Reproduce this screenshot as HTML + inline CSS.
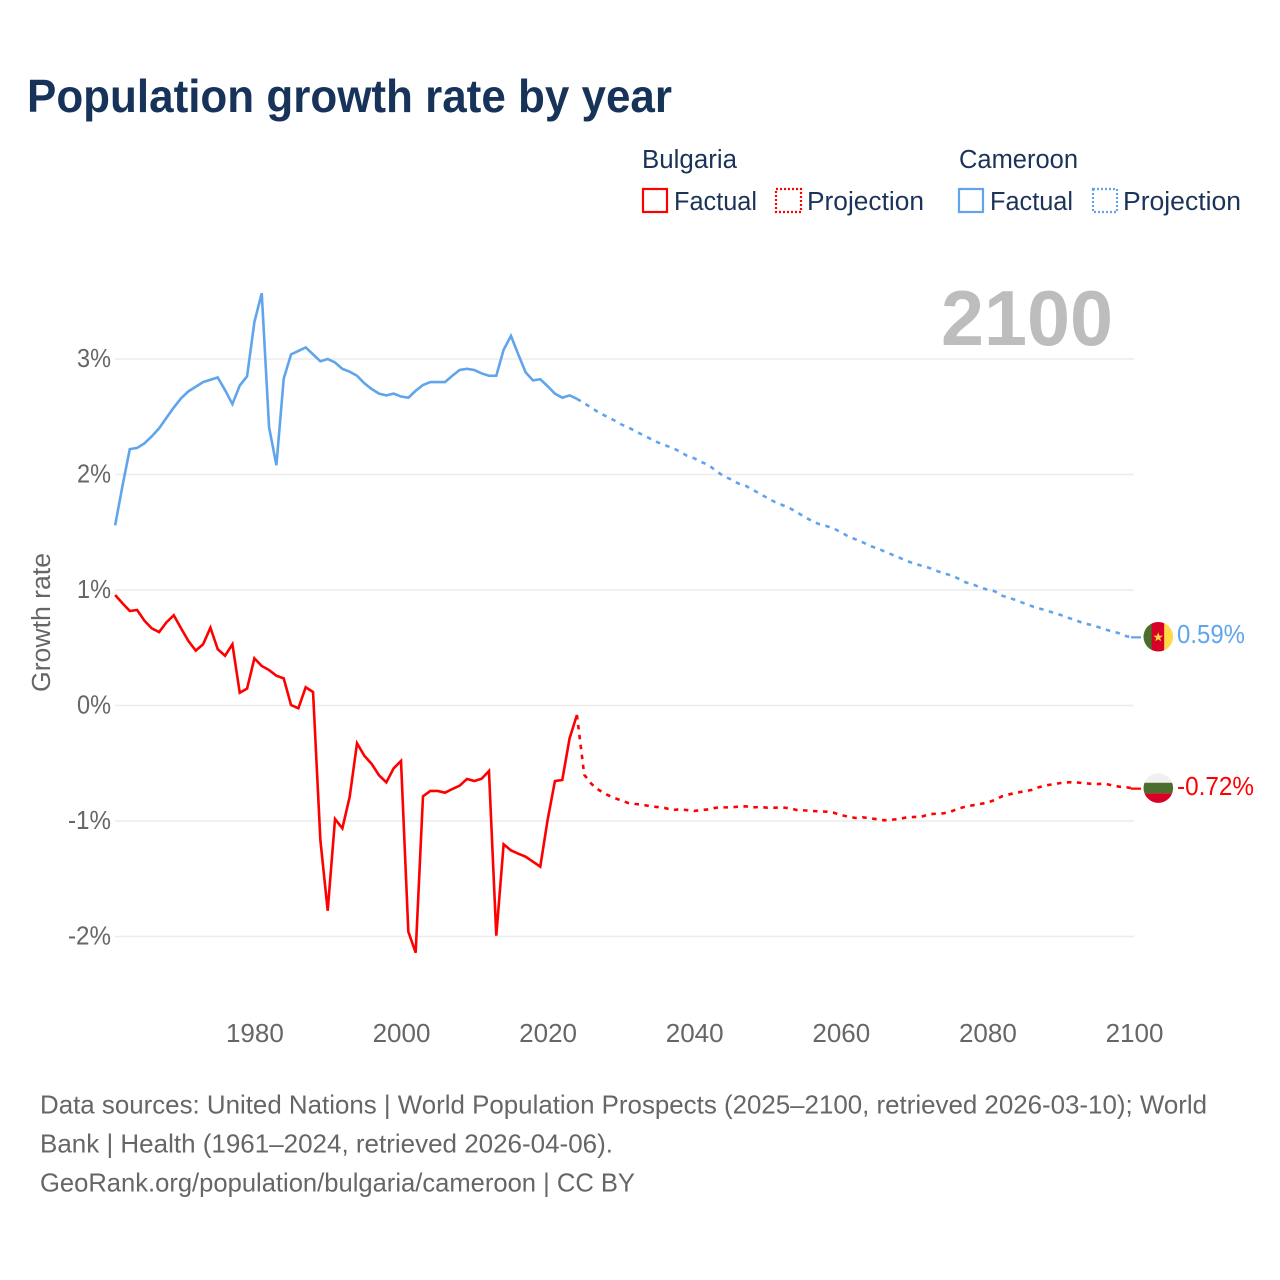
<!DOCTYPE html>
<html lang="en">
<head>
<meta charset="utf-8">
<title>Population growth rate by year</title>
<style>
html,body{margin:0;padding:0;background:#fff;}
svg{display:block;font-family:"Liberation Sans",Arial,sans-serif;}
</style>
</head>
<body>
<svg id="chart" width="1280" height="1280" viewBox="0 0 1280 1280" xmlns="http://www.w3.org/2000/svg">
  <rect x="0" y="0" width="1280" height="1280" fill="#ffffff"/>
  <text x="27" y="112" font-size="46.5" font-weight="700" fill="#17335a" textLength="645" lengthAdjust="spacingAndGlyphs">Population growth rate by year</text>

  <g font-size="25.5" fill="#1b3358">
    <text x="642" y="168" textLength="95" lengthAdjust="spacingAndGlyphs">Bulgaria</text>
    <rect x="643" y="189" width="24" height="23" fill="none" stroke="#ff0000" stroke-width="2.2"/>
    <text x="674" y="210" textLength="83" lengthAdjust="spacingAndGlyphs">Factual</text>
    <rect x="776" y="189" width="25" height="23" fill="none" stroke="#ff0000" stroke-width="2.2" stroke-dasharray="2 2"/>
    <text x="807" y="210" textLength="117" lengthAdjust="spacingAndGlyphs">Projection</text>
    <text x="959" y="168" textLength="119" lengthAdjust="spacingAndGlyphs">Cameroon</text>
    <rect x="959" y="189" width="24" height="23" fill="none" stroke="#60a5ec" stroke-width="2.2"/>
    <text x="990" y="210" textLength="83" lengthAdjust="spacingAndGlyphs">Factual</text>
    <rect x="1093" y="189" width="24" height="23" fill="none" stroke="#60a5ec" stroke-width="2.2" stroke-dasharray="2 2"/>
    <text x="1123" y="210" textLength="118" lengthAdjust="spacingAndGlyphs">Projection</text>
  </g>

  <g id="grid"></g>
  <g id="y-ticks"></g>
  <g id="x-ticks"></g>
  <text transform="translate(50 692) rotate(-90)" font-size="25.5" fill="#666666" textLength="139" lengthAdjust="spacingAndGlyphs">Growth rate</text>

  <text id="year-label" x="941" y="345" font-size="78" font-weight="700" fill="#bdbdbd" textLength="172" lengthAdjust="spacingAndGlyphs">2100</text>

  <g id="series"></g>

  <defs>
    <clipPath id="clip-cameroon"><circle id="clip-cm" cx="1158.3" cy="0" r="14.8"/></clipPath>
    <clipPath id="clip-bulgaria"><circle id="clip-bg" cx="1158.3" cy="0" r="14.8"/></clipPath>
  </defs>
  <g id="flag-cameroon" clip-path="url(#clip-cameroon)"></g>
  <g id="flag-bulgaria" clip-path="url(#clip-bulgaria)"></g>
  <g id="end-labels"></g>

  <g font-size="26" fill="#666666">
    <text x="40" y="1113.5" textLength="1167" lengthAdjust="spacingAndGlyphs">Data sources: United Nations | World Population Prospects (2025–2100, retrieved 2026-03-10); World</text>
    <text x="40" y="1152.5" textLength="573" lengthAdjust="spacingAndGlyphs">Bank | Health (1961–2024, retrieved 2026-04-06).</text>
    <text x="40" y="1191.5" textLength="595" lengthAdjust="spacingAndGlyphs">GeoRank.org/population/bulgaria/cameroon | CC BY</text>
  </g>
</svg>

<script>
const factualStartYear = 1961;
const projectionStartYear = 2025;

const cameroonFactual = [1.56,1.90,2.22,2.23,2.27,2.33,2.40,2.49,2.58,2.66,2.72,2.76,2.80,2.82,2.84,2.73,2.61,2.77,2.85,3.32,3.57,2.41,2.08,2.83,3.04,3.07,3.10,3.04,2.98,3.00,2.97,2.915,2.89,2.855,2.79,2.74,2.70,2.685,2.70,2.675,2.665,2.725,2.775,2.80,2.80,2.80,2.855,2.905,2.915,2.905,2.875,2.855,2.855,3.08,3.20,3.04,2.885,2.815,2.825,2.765,2.70,2.665,2.685,2.655];

const cameroonProjection = [2.617,2.578,2.535,2.504,2.472,2.435,2.408,2.374,2.342,2.31,2.279,2.253,2.232,2.20,2.163,2.14,2.108,2.08,2.03,1.987,1.958,1.923,1.903,1.868,1.831,1.797,1.762,1.736,1.71,1.673,1.635,1.60,1.571,1.554,1.534,1.50,1.465,1.439,1.413,1.381,1.361,1.332,1.306,1.28,1.251,1.231,1.21,1.193,1.167,1.145,1.127,1.10,1.067,1.049,1.023,1.003,0.989,0.951,0.931,0.911,0.885,0.861,0.841,0.824,0.803,0.784,0.76,0.74,0.714,0.70,0.682,0.66,0.642,0.625,0.599,0.59];

const bulgariaFactual = [0.957,0.885,0.818,0.827,0.734,0.668,0.636,0.72,0.781,0.668,0.558,0.475,0.53,0.674,0.487,0.431,0.53,0.111,0.146,0.409,0.342,0.307,0.258,0.235,0.004,-0.024,0.158,0.117,-1.165,-1.777,-0.983,-1.063,-0.79,-0.327,-0.435,-0.506,-0.604,-0.665,-0.544,-0.48,-1.958,-2.14,-0.786,-0.74,-0.74,-0.755,-0.723,-0.694,-0.636,-0.654,-0.634,-0.567,-1.993,-1.202,-1.254,-1.283,-1.309,-1.352,-1.395,-0.991,-0.654,-0.645,-0.284,-0.082];

const bulgariaProjection = [-0.60,-0.68,-0.732,-0.769,-0.798,-0.821,-0.844,-0.853,-0.859,-0.873,-0.879,-0.887,-0.905,-0.899,-0.905,-0.913,-0.905,-0.899,-0.885,-0.882,-0.882,-0.876,-0.873,-0.882,-0.879,-0.885,-0.885,-0.882,-0.89,-0.905,-0.908,-0.913,-0.916,-0.919,-0.928,-0.948,-0.962,-0.974,-0.968,-0.977,-0.985,-0.994,-0.988,-0.983,-0.968,-0.965,-0.963,-0.942,-0.937,-0.934,-0.919,-0.893,-0.876,-0.864,-0.853,-0.841,-0.818,-0.786,-0.769,-0.755,-0.743,-0.732,-0.708,-0.691,-0.682,-0.671,-0.665,-0.665,-0.671,-0.677,-0.68,-0.677,-0.691,-0.703,-0.708,-0.72];

const yTickValues = [3,2,1,0,-1,-2];
const yTickLabels = ["3%","2%","1%","0%","-1%","-2%"];
const xTickYears = [1980,2000,2020,2040,2060,2080,2100];
const xTickLabels = ["1980","2000","2020","2040","2060","2080","2100"];
const endLabelCameroon = "0.59%";
const endLabelBulgaria = "-0.72%";

const NS = "http://www.w3.org/2000/svg";
function xScale(year){ return 1134 - (2100 - year) * 7.33; }
function yScale(v){ return 705.5 - v * 115.5; }

function make(tag, attrs, parent){
  const el = document.createElementNS(NS, tag);
  for (const k in attrs) el.setAttribute(k, attrs[k]);
  parent.appendChild(el);
  return el;
}

const gridLayer = document.getElementById("grid");
const yLayer = document.getElementById("y-ticks");
yTickValues.forEach(function(v, i){
  const line = make("line", {x1:115, x2:1134, y1:yScale(v), y2:yScale(v), stroke:"#ececec", "stroke-width":1.4}, gridLayer);
  
  
  const label = make("text", {x:111, y:yScale(v)+8.2, "text-anchor":"end", "font-size":26, fill:"#666666", textLength: yTickLabels[i].length > 2 ? 43 : 34, lengthAdjust:"spacingAndGlyphs"}, yLayer);
  
  
  label.textContent = yTickLabels[i];
});

const xLayer = document.getElementById("x-ticks");
xTickYears.forEach(function(yr, i){
  const label = make("text", {x:xScale(yr)+0.5, y:1042, "text-anchor":"middle", "font-size":26, fill:"#666666"}, xLayer);
  
  
  label.textContent = xTickLabels[i];
});

function factualPoints(values){
  return values.map(function(v, i){ return xScale(factualStartYear + i).toFixed(2) + "," + yScale(v).toFixed(2); });
}
function projectionPoints(factual, values){
  const lastYear = factualStartYear + factual.length - 1;
  const pts = [xScale(lastYear).toFixed(2) + "," + yScale(factual[factual.length - 1]).toFixed(2)];
  values.forEach(function(v, i){ pts.push(xScale(projectionStartYear + i).toFixed(2) + "," + yScale(v).toFixed(2)); });
  return pts;
}

const seriesLayer = document.getElementById("series");

const cameroonFactualLine = make("polyline", {points:factualPoints(cameroonFactual).join(" "), fill:"none", stroke:"#60a5ec", "stroke-width":2.6}, seriesLayer);



const cameroonProjectionLine = make("polyline", {points:projectionPoints(cameroonFactual, cameroonProjection).join(" "), fill:"none", stroke:"#60a5ec", "stroke-width":2.6, "stroke-dasharray":"4.5 5.5"}, seriesLayer);



const bulgariaFactualLine = make("polyline", {points:factualPoints(bulgariaFactual).join(" "), fill:"none", stroke:"#ff0000", "stroke-width":2.6}, seriesLayer);



const bulgariaProjectionLine = make("polyline", {points:projectionPoints(bulgariaFactual, bulgariaProjection).join(" "), fill:"none", stroke:"#ff0000", "stroke-width":2.6, "stroke-dasharray":"4.5 5.5"}, seriesLayer);



const cmEndY = yScale(cameroonProjection[cameroonProjection.length - 1]);
const bgEndY = yScale(bulgariaProjection[bulgariaProjection.length - 1]);

const cmStub = make("line", {x1:1131, x2:1141, y1:cmEndY, y2:cmEndY, stroke:"#60a5ec", "stroke-width":2.2}, seriesLayer);


const bgStub = make("line", {x1:1131, x2:1141, y1:bgEndY, y2:bgEndY, stroke:"#ff0000", "stroke-width":2.2}, seriesLayer);



const cmFlagY = cmEndY - 0.6;
const bgFlagY = bgEndY - 0.6;
document.getElementById("clip-cm").setAttribute("cy", cmFlagY);
document.getElementById("clip-bg").setAttribute("cy", bgFlagY);

const cmFlag = document.getElementById("flag-cameroon");
make("rect", {x:1143, y:cmFlagY-15, width:9, height:30, fill:"#496e2d"}, cmFlag);
make("rect", {x:1151.7, y:cmFlagY-15, width:12.6, height:30, fill:"#d80027"}, cmFlag);
make("rect", {x:1164.3, y:cmFlagY-15, width:10, height:30, fill:"#ffda44"}, cmFlag);
const starPts = [];
for (let i = 0; i < 10; i++) {
  const r = i % 2 === 0 ? 5 : 2;
  const a = -Math.PI / 2 + i * Math.PI / 5;
  starPts.push((1158.2 + r * Math.cos(a)).toFixed(2) + "," + (cmFlagY + 0.5 + r * Math.sin(a)).toFixed(2));
}
make("polygon", {points:starPts.join(" "), fill:"#ffda44"}, cmFlag);

const bgFlag = document.getElementById("flag-bulgaria");
make("rect", {x:1143, y:bgFlagY-15.5, width:31, height:10.2, fill:"#f0f0f0"}, bgFlag);
make("rect", {x:1143, y:bgFlagY-5.3, width:31, height:10.6, fill:"#496e2d"}, bgFlag);
make("rect", {x:1143, y:bgFlagY+5.3, width:31, height:11, fill:"#d80027"}, bgFlag);

const endLayer = document.getElementById("end-labels");
const cmLabel = make("text", {x:1177, y:cmEndY+5.6, "font-size":25.5, fill:"#60a5ec", textLength:68, lengthAdjust:"spacingAndGlyphs"}, endLayer);


cmLabel.textContent = endLabelCameroon;
const bgLabel = make("text", {x:1177, y:bgEndY+6.2, "font-size":25.5, fill:"#ff0000", textLength:77, lengthAdjust:"spacingAndGlyphs"}, endLayer);


bgLabel.textContent = endLabelBulgaria;
</script>
</body>
</html>
